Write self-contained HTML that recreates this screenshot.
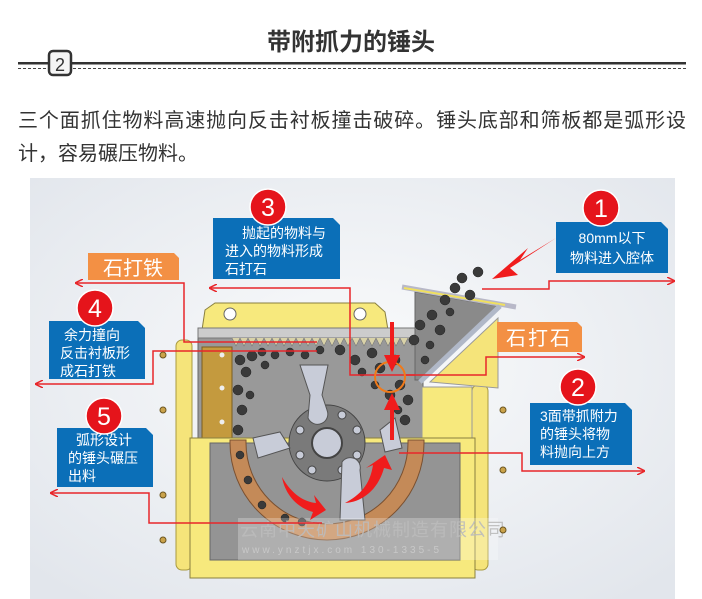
<!DOCTYPE html>
<html><head><meta charset="utf-8"><style>
html,body{margin:0;padding:0;background:#fff;width:702px;height:599px;overflow:hidden}
.t{font-family:"Liberation Sans","Noto Sans CJK SC",sans-serif}
</style></head><body>
<svg width="702" height="599" viewBox="0 0 702 599" xmlns="http://www.w3.org/2000/svg" class="t">
<defs>
<radialGradient id="bg" cx="50%" cy="45%" r="70%"><stop offset="0" stop-color="#fafbfc"/><stop offset="1" stop-color="#e2e6ec"/></radialGradient>
<marker id="ah" markerWidth="8" markerHeight="8" refX="7" refY="4" orient="auto" markerUnits="userSpaceOnUse"><path d="M0,0 L8,4 L0,8" fill="none" stroke="#e8262a" stroke-width="1.5"/></marker>
</defs>
<!-- header -->
<text x="351" y="50" font-size="24" font-weight="bold" fill="#333" text-anchor="middle">带附抓力的锤头</text>
<rect x="18" y="62" width="668" height="2.5" fill="#333"/>
<line x1="18" y1="68.5" x2="686" y2="68.5" stroke="#444" stroke-dasharray="3,2" stroke-width="1"/>
<rect x="49" y="51" width="22" height="24" rx="4" fill="#f5f5f5" stroke="#333" stroke-width="2.5"/>
<text x="60" y="71" font-size="18" fill="#333" text-anchor="middle">2</text>
<text x="18" y="127" font-size="20" fill="#333" textLength="668" lengthAdjust="spacing">三个面抓住物料高速抛向反击衬板撞击破碎。锤头底部和筛板都是弧形设</text>
<text x="18" y="160" font-size="20" fill="#333">计，容易碾压物料。</text>
<!-- image bg -->
<rect x="30" y="178" width="645" height="421" fill="url(#bg)"/>
<!-- machine: side rounded yellow -->
<rect x="176" y="340" width="16" height="230" rx="6" fill="#f5e47a" stroke="#a99a40"/>
<rect x="472" y="385" width="16" height="185" rx="6" fill="#f5e47a" stroke="#a99a40"/>
<!-- top lid -->
<path d="M202,330 L205,310 L215,303 L375,303 L385,312 L388,330 Z" fill="#f7e97d" stroke="#8a8040"/>
<circle cx="230" cy="314" r="6" fill="#fff" stroke="#666"/><circle cx="360" cy="314" r="6" fill="#fff" stroke="#666"/>
<!-- upper chamber -->
<rect x="198" y="328" width="225" height="112" fill="#999" stroke="#666"/>
<rect x="198" y="328" width="225" height="10" fill="#ccc" stroke="#777"/>
<path d="M232,338 l4,8 l4,-8 l4,8 l4,-8 l4,8 l4,-8 l4,8 l4,-8 l4,8 l4,-8 l4,8 l4,-8 l4,8 l4,-8 l4,8 l4,-8 l4,8 l4,-8 l4,8 l4,-8 l4,8 l4,-8 l4,8 l4,-8 l4,8 l4,-8 l4,8 l4,-8 l4,8 l4,-8 l4,8 l4,-8 l4,8 l4,-8 l4,8 l4,-8 l4,8 l4,-8 l4,8 l4,-8 l4,8 l4,-8 l4,8 l4,-8 l4,8 l4,-8" fill="#d9d2a8" stroke="#777" stroke-width="0.6"/>
<rect x="202" y="347" width="30" height="92" fill="#c49a3e" stroke="#7a5d20"/>
<circle cx="222" cy="355" r="2.5" fill="#eee"/><circle cx="222" cy="388" r="2.5" fill="#eee"/><circle cx="222" cy="422" r="2.5" fill="#eee"/>
<!-- hopper -->
<path d="M415,292 L498,306 L420,380 L415,380 Z" fill="#8a8a8a" stroke="#666"/>
<line x1="402" y1="287" x2="516" y2="307" stroke="#b8b8c8" stroke-width="5"/>
<line x1="404" y1="288" x2="505" y2="305" stroke="#f0e060" stroke-width="2"/>
<line x1="500" y1="306" x2="420" y2="382" stroke="#b0b8c8" stroke-width="5"/>
<path d="M430,382 L498,318 L498,388 Z" fill="#f5e47a" stroke="#999"/>
<!-- right yellow box -->
<rect x="422" y="387" width="50" height="53" fill="#f7e97d" stroke="#999"/>
<!-- lower body -->
<rect x="190" y="438" width="285" height="140" fill="#f7e97d" stroke="#8a8040"/>
<rect x="210" y="443" width="250" height="117" fill="#949494" stroke="#666"/>
<!-- brown arc -->
<path d="M230,440 L230,443 A97,97 0 0 0 424,443 L424,440 L408,440 L408,443 A81,81 0 0 1 246,443 L246,440 Z" fill="#c48a58" stroke="#7a5030"/>
<!-- stones -->
<g fill="#3a3a3a" stroke="#222" stroke-width="0.5">
<circle cx="240" cy="360" r="5"/><circle cx="252" cy="356" r="5"/><circle cx="246" cy="372" r="5"/><circle cx="238" cy="390" r="5"/><circle cx="242" cy="410" r="5"/><circle cx="238" cy="430" r="5"/><circle cx="262" cy="352" r="4"/><circle cx="275" cy="355" r="4"/><circle cx="290" cy="352" r="4"/><circle cx="305" cy="355" r="4"/><circle cx="320" cy="350" r="4"/><circle cx="340" cy="350" r="5"/><circle cx="355" cy="360" r="5"/><circle cx="372" cy="353" r="5"/><circle cx="380" cy="368" r="5"/><circle cx="395" cy="360" r="5"/><circle cx="400" cy="385" r="5"/><circle cx="390" cy="395" r="5"/><circle cx="408" cy="400" r="5"/><circle cx="405" cy="420" r="5"/><circle cx="414" cy="340" r="5"/><circle cx="420" cy="325" r="5"/><circle cx="432" cy="315" r="5"/><circle cx="445" cy="300" r="5"/><circle cx="455" cy="288" r="5"/><circle cx="462" cy="278" r="5"/><circle cx="478" cy="272" r="5"/><circle cx="470" cy="295" r="5"/><circle cx="440" cy="330" r="5"/><circle cx="240" cy="455" r="4"/><circle cx="248" cy="480" r="4"/><circle cx="262" cy="505" r="4"/><circle cx="285" cy="518" r="4"/><circle cx="302" cy="522" r="4"/>
<circle cx="430" cy="345" r="4"/><circle cx="425" cy="360" r="4"/><circle cx="450" cy="312" r="4"/><circle cx="362" cy="372" r="4"/><circle cx="375" cy="385" r="4"/><circle cx="265" cy="365" r="4"/><circle cx="250" cy="395" r="4"/><circle cx="398" cy="410" r="4"/>
</g>
<!-- rotor -->
<circle cx="327" cy="443" r="38" fill="#7a7a7a" stroke="#444"/>
<circle cx="327" cy="443" r="15" fill="#c8ccd8" stroke="#444" stroke-width="2"/>
<g fill="#c8ccd8" stroke="#444"><circle cx="342" cy="415" r="4"/><circle cx="357" cy="430" r="4"/><circle cx="357" cy="455" r="4"/><circle cx="342" cy="470" r="4"/><circle cx="312" cy="470" r="4"/><circle cx="300" cy="455" r="4"/><circle cx="300" cy="430" r="4"/></g>
<path d="M300,365 L328,365 L322,395 L327,410 A10,10 0 0 1 308,418 L310,395 Z" fill="#c8ccd8" stroke="#555"/>
<path d="M342,462 A10,10 0 0 1 360,470 L365,520 L340,520 Z" fill="#c8ccd8" stroke="#555"/>
<path d="M253,438 L280,432 L290,448 L258,458 Z" fill="#c8ccd8" stroke="#555"/>
<path d="M380,430 L395,418 L402,448 L385,452 Z" fill="#c8ccd8" stroke="#555"/>
<!-- watermark -->
<rect x="238" y="518" width="260" height="42" fill="#ffffff" opacity="0.25"/>
<text x="240" y="536" font-size="18" fill="#bcbcbc" opacity="0.9" letter-spacing="1">云南中天矿山机械制造有限公司</text>
<text x="242" y="553" font-size="10" fill="#c8c8c8" letter-spacing="3">www.ynztjx.com 130-1335-5</text>
<!-- bolts -->
<g fill="#caa24a" stroke="#6b5520"><circle cx="163" cy="355" r="3"/><circle cx="163" cy="410" r="3"/><circle cx="163" cy="495" r="3"/><circle cx="163" cy="540" r="3"/><circle cx="503" cy="410" r="3"/><circle cx="503" cy="470" r="3"/><circle cx="503" cy="530" r="3"/></g>
<!-- red lines -->
<g fill="none" stroke="#e8262a" stroke-width="1.5">
<path d="M317,342 L184,342 L184,283 L76,283" marker-end="url(#ah)"/>
<path d="M415,375 L350,375 L350,288 L210,288" marker-end="url(#ah)"/>
<path d="M482,289 L549,289 L549,281 L674,281" marker-end="url(#ah)"/>
<path d="M405,375 L486,375 L486,357 L584,357" marker-end="url(#ah)"/>
<path d="M317,351 L153,351 L153,384 L36,384" marker-end="url(#ah)"/>
<path d="M399,453 L522,453 L522,471 L644,471" marker-end="url(#ah)"/>
<path d="M322,523 L149,523 L149,493 L51,493" marker-end="url(#ah)"/>
</g>
<circle cx="390" cy="377" r="15" fill="none" stroke="#f07a1a" stroke-width="2"/>
<!-- red arrows -->
<g fill="#f01c1c">
<path d="M390,322 L394,322 L394,355 L400,355 L392,372 L384,355 L390,355 Z"/>
<path d="M390,440 L394,440 L394,410 L400,410 L392,393 L384,410 L390,410 Z"/>
<path d="M556,238 L520,260 L528,248 L492,279 L518,275 L510,268 Z"/>
<path d="M282,477 C292,495 305,502 316,503 L314,495 L326,510 L310,520 L313,512 C298,508 285,495 282,477 Z"/>
<path d="M345,503 C360,495 370,485 373,465 L366,468 L385,455 L392,470 L384,468 C378,490 362,502 345,503 Z"/>
</g>
<!-- labels -->
<g>
<path d="M213,218 L333,218 L340,225 L340,279 L213,279 Z" fill="#0b6fb8"/>
<text fill="#fff" font-size="14"><tspan x="242" y="238">抛起的物料与</tspan><tspan x="225" y="256">进入的物料形成</tspan><tspan x="225" y="274">石打石</tspan></text>
<path d="M556,222 L661,222 L668,229 L668,273 L556,273 Z" fill="#0b6fb8"/>
<text fill="#fff" font-size="14" text-anchor="middle"><tspan x="612" y="243">80mm以下</tspan><tspan x="612" y="263">物料进入腔体</tspan></text>
<path d="M49,321 L138,321 L145,328 L145,379 L49,379 Z" fill="#0b6fb8"/>
<text fill="#fff" font-size="14" text-anchor="middle"><tspan x="92" y="340">余力撞向</tspan><tspan x="95" y="358">反击衬板形</tspan><tspan x="88" y="376">成石打铁</tspan></text>
<path d="M530,403 L625,403 L632,410 L632,465 L530,465 Z" fill="#0b6fb8"/>
<text fill="#fff" font-size="14"><tspan x="540" y="421">3面带抓附力</tspan><tspan x="540" y="439">的锤头将物</tspan><tspan x="540" y="457">料抛向上方</tspan></text>
<path d="M57,428 L146,428 L153,435 L153,487 L57,487 Z" fill="#0b6fb8"/>
<text fill="#fff" font-size="14"><tspan x="76" y="445">弧形设计</tspan><tspan x="68" y="463">的锤头碾压</tspan><tspan x="68" y="481">出料</tspan></text>
<path d="M88,253 L174,253 L179,258 L179,280 L88,280 Z" fill="#f39044"/>
<text x="133" y="275" fill="#fff" font-size="20" text-anchor="middle">石打铁</text>
<path d="M497,322 L577,322 L582,327 L582,352 L497,352 Z" fill="#f39044"/>
<text x="539" y="345" fill="#fff" font-size="20" text-anchor="middle" letter-spacing="2">石打石</text>
</g>
<!-- number circles -->
<g fill="#e5141b" stroke="#fff" stroke-width="1.5">
<circle cx="601" cy="208" r="18"/><circle cx="578" cy="387" r="18"/><circle cx="268" cy="207" r="18"/><circle cx="95" cy="308" r="18"/><circle cx="104" cy="416" r="18"/>
</g>
<g fill="#fff" font-size="25" text-anchor="middle">
<text x="601" y="217">1</text><text x="578" y="396">2</text><text x="268" y="216">3</text><text x="95" y="317">4</text><text x="104" y="425">5</text>
</g>
</svg>
</body></html>
